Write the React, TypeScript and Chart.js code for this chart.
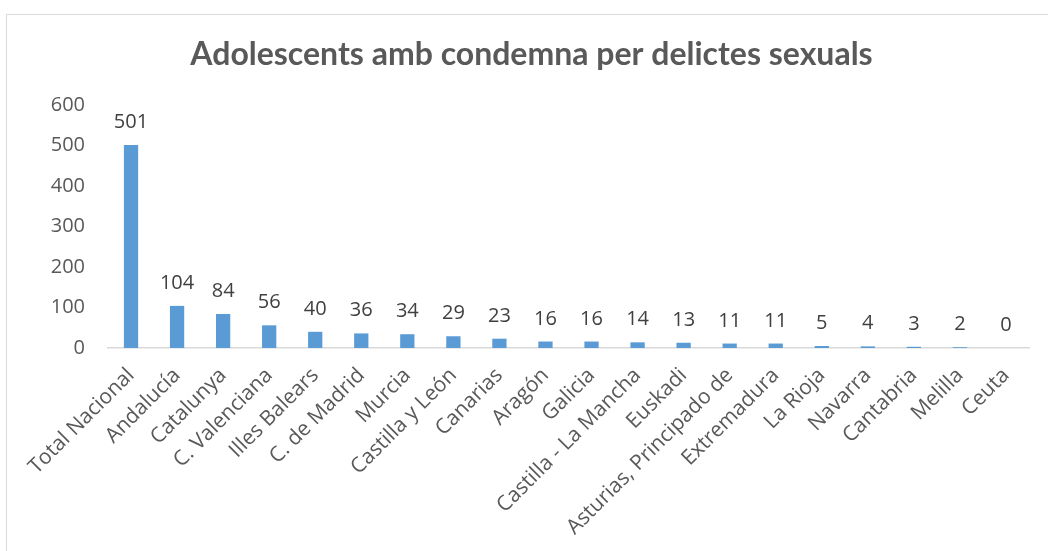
import React, { useEffect, useRef } from "react";
import { Chart, registerables } from "chart.js";

Chart.register(...registerables);

const categories = [
  "Total Nacional", "Andalucía", "Catalunya", "C. Valenciana", "Illes Balears",
  "C. de Madrid", "Murcia", "Castilla y León", "Canarias", "Aragón", "Galicia",
  "Castilla - La Mancha", "Euskadi", "Asturias, Principado de", "Extremadura",
  "La Rioja", "Navarra", "Cantabria", "Melilla", "Ceuta",
];
const values = [501, 104, 84, 56, 40, 36, 34, 29, 23, 16, 16, 14, 13, 11, 11, 5, 4, 3, 2, 0];
const titleText = "Adolescents amb condemna per delictes sexuals";

const TITLE_FONT = "Lato, 'Open Sans', sans-serif";
const FONT = "'Open Sans', Lato, sans-serif";

const valueLabels = {
  id: "valueLabels",
  afterDatasetsDraw(chart: any) {
    const ctx = chart.ctx;
    const meta = chart.getDatasetMeta(0);
    ctx.save();
    ctx.font = `20px ${FONT}`;
    ctx.fillStyle = "#404040";
    ctx.textAlign = "center";
    ctx.textBaseline = "alphabetic";
    meta.data.forEach((bar: any, i: number) => {
      ctx.fillText(String(values[i]), bar.x, bar.y - 17);
    });
    ctx.restore();
  },
};

export default function App() {
  const ref = useRef<HTMLCanvasElement>(null);
  useEffect(() => {
    if (!ref.current) return;
    const chart = new Chart(ref.current, {
      type: "bar",
      data: {
        labels: categories,
        datasets: [
          {
            data: values,
            backgroundColor: "#5b9bd5",
            barPercentage: 0.31,
            categoryPercentage: 1,
          },
        ],
      },
      options: {
        animation: false,
        responsive: false,
        maintainAspectRatio: false,
        layout: { padding: { left: 34, right: 19, top: 0, bottom: 0 } },
        plugins: {
          legend: { display: false },
          tooltip: { enabled: false },
          title: {
            display: true,
            text: titleText,
            color: "#595959",
            font: { family: TITLE_FONT, size: 32, weight: "bold" },
            padding: { top: 35, bottom: 31.6 },
          },
        },
        scales: {
          x: {
            grid: { display: false, drawTicks: false },
            border: { display: true, color: "#d9d9d9", width: 1.5 },
            afterFit: (scale: any) => {
              scale.height = 203;
            },
            ticks: {
              color: "#595959",
              font: { family: FONT, size: 21 },
              minRotation: 45,
              maxRotation: 45,
              autoSkip: false,
              padding: 15,
            },
          },
          y: {
            min: 0,
            max: 600,
            afterFit: (scale: any) => {
              scale.width = 74;
            },
            grid: { display: false, drawTicks: false },
            border: { display: false },
            ticks: {
              stepSize: 100,
              color: "#595959",
              font: { family: FONT, size: 20 },
              padding: 23,
            },
          },
        },
      },
      plugins: [valueLabels],
    });
    return () => chart.destroy();
  }, []);

  return (
    <div style={{ position: "fixed", left: 0, top: 0, width: 1048, height: 551, background: "#fff", overflow: "hidden" }}>
      <div style={{ position: "absolute", left: 6, top: 14, width: 1100, height: 600, border: "1.5px solid #d9d9d9", boxSizing: "border-box" }} />
      <canvas ref={ref} width={1048} height={551} style={{ position: "absolute", left: 0, top: 0 }} />
    </div>
  );
}
